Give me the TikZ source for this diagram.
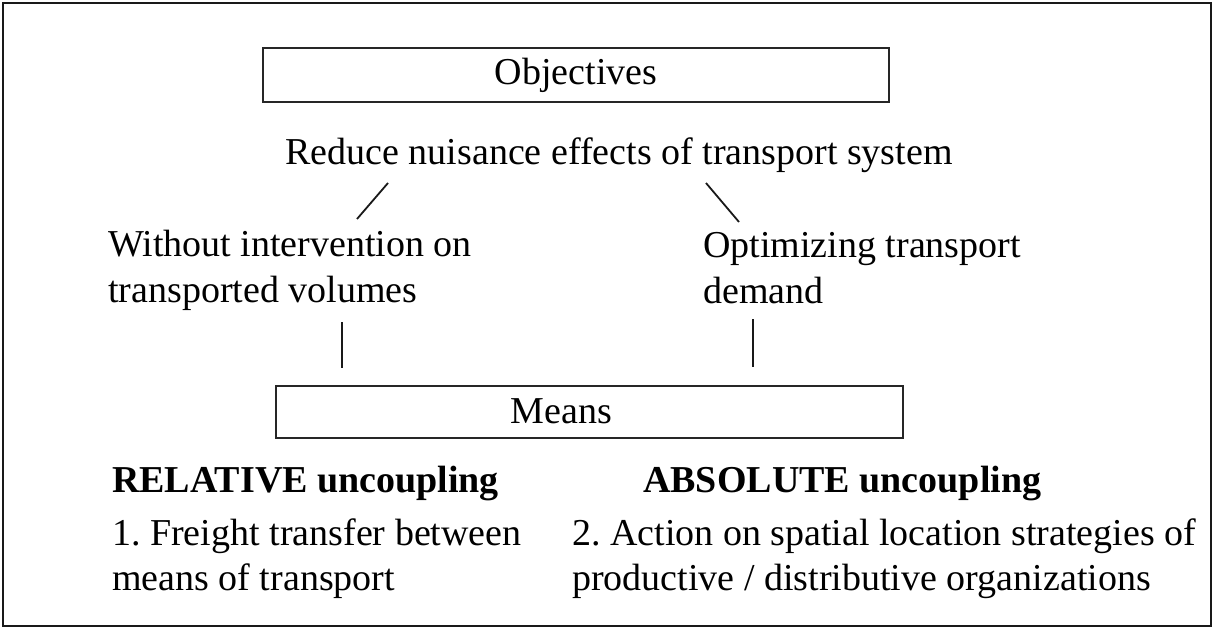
\documentclass[tikz,border=0pt]{standalone}
\usepackage{fontspec}
\setmainfont{Liberation Serif}
\frenchspacing
\begin{document}
\begin{tikzpicture}[x=1pt,y=-1pt,
  txt/.style={inner sep=0pt,font=\fontsize{38}{46}\selectfont},
  lefttxt/.style={txt,anchor=base west,align=left},
  boldtxt/.style={txt,anchor=base west,font=\fontsize{38}{46}\selectfont\bfseries},
  boxnode/.style={draw=black!85,line width=1.8pt,inner sep=0pt,rectangle},
  link/.style={draw=black!90,line width=1.8pt}]
\useasboundingbox (0,0) rectangle (1214,628);
\draw[line width=2.6pt,draw=black!90] (3,3) rectangle (1211,626);
% objectives
\node[boxnode,minimum width=626pt,minimum height=54pt,txt] (obj) at (576,75) {Objectives};
\node[txt,anchor=base] (reduce) at (619,165) {Reduce nuisance effects of transport system};
% multi-line nodes: base anchor is the baseline of the last line
\node[lefttxt] (without) at (108,302) {Without intervention on\\transported volumes};
\node[lefttxt] (optim) at (703,303) {Optimizing transport\\demand};
% connectors
\coordinate (l1a) at (388,183);
\coordinate (l1b) at (357,219);
\coordinate (l2a) at (706,183);
\coordinate (l2b) at (739,222);
\coordinate (v1a) at (342,322);
\coordinate (v1b) at (342,368);
\coordinate (v2a) at (753,319);
\coordinate (v2b) at (753,367);
\draw[link] (l1a) -- (l1b);
\draw[link] (l2a) -- (l2b);
\draw[link] (v1a) -- (v1b);
\draw[link] (v2a) -- (v2b);
% means
\node[boxnode,minimum width=627pt,minimum height=52pt] (means) at (589.5,412) {};
\node[txt,anchor=base] (meanslbl) at (561.5,423) {Means};
\node[boldtxt] (rel) at (112,492) {RELATIVE uncoupling};
\node[boldtxt] (abs) at (643,492) {ABSOLUTE uncoupling};
\node[lefttxt,font=\fontsize{38}{45}\selectfont] (one) at (112,590) {1. Freight transfer between\\means of transport};
\node[lefttxt,font=\fontsize{38}{45}\selectfont] (two) at (572,590) {2. Action on spatial location strategies of\\productive / distributive organizations};
\end{tikzpicture}
\end{document}
